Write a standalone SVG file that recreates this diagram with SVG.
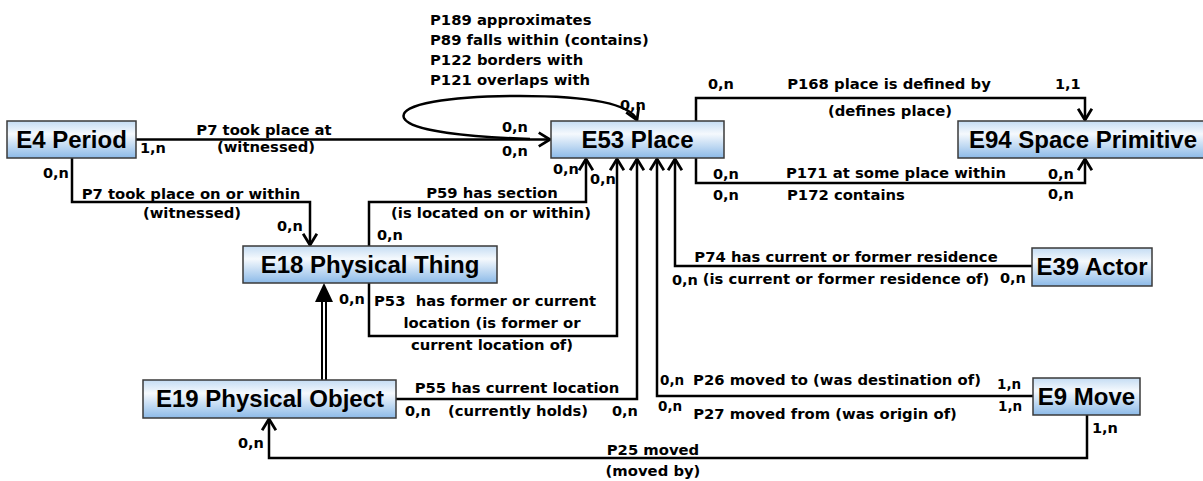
<svg xmlns="http://www.w3.org/2000/svg" width="1203" height="481" viewBox="0 0 1203 481">
<defs>
<linearGradient id="g" x1="0" y1="0" x2="0" y2="1">
<stop offset="0" stop-color="#c4dcf3"/>
<stop offset="0.35" stop-color="#f5f9fd"/>
<stop offset="1" stop-color="#8cbae8"/>
</linearGradient>
<marker id="arr" markerUnits="userSpaceOnUse" markerWidth="20" markerHeight="20" viewBox="-12 -8 14 16" refX="0" refY="0" orient="auto">
<path d="M-9,-5.5 L0,0 L-9,5.5" fill="none" stroke="#000" stroke-width="2.2"/>
</marker>
<style>
.n rect{fill:url(#g);stroke:#3a3a3a;stroke-width:1.5}
.n text{font-family:"Liberation Sans",Arial,sans-serif;font-weight:bold;font-size:24px;fill:#000;text-anchor:middle}
.c path{fill:none;stroke:#000;stroke-width:2.5}
.c .a{marker-end:url(#arr)}
.l{font-family:"DejaVu Sans","Noto Sans",sans-serif;font-weight:bold;font-size:14.8px;fill:#000}
.m{text-anchor:middle}
.k{font-size:14.5px}
</style>
</defs>
<rect width="1203" height="481" fill="#fff"/>
<g class="c" id="connectors">
<path class="a" d="M136,139.5 H550"/>
<path class="a" d="M530,139 C470,137 410,131 404,118 C398,104 450,96 520,96 C590,96 630,104 637,120"/>
<path class="a" d="M696,121 V98 H1085 V120"/>
<path class="a" d="M696,158 V183 H1085 V159"/>
<path class="a" d="M72,158 V202 H310 V245"/>
<path class="a" d="M369,246 V202 H586 V159"/>
<path class="a" d="M369,283 V336 H617 V159"/>
<path class="a" d="M396,399 H637 V159"/>
<path class="a" d="M1033,396 H657 V159"/>
<path class="a" d="M1032,266 H675 V159"/>
<path class="a" d="M1087,415 V458 H269 V419"/>
<path d="M322,380 V300 M326,380 V300" style="stroke-width:2"/>
<polygon points="324,283 315,302 333,302" fill="#000"/>
</g>
<g id="e4" class="n"><rect x="7" y="121" width="129" height="37"/><text x="71.5" y="148">E4 Period</text></g>
<g id="e53" class="n"><rect x="551" y="121" width="173" height="37"/><text x="637.5" y="148">E53 Place</text></g>
<g id="e94" class="n"><rect x="958" y="121" width="250" height="37"/><text x="1083" y="148">E94 Space Primitive</text></g>
<g id="e18" class="n"><rect x="243" y="246" width="254" height="37"/><text x="370" y="273">E18 Physical Thing</text></g>
<g id="e19" class="n"><rect x="143" y="380" width="253" height="38"/><text x="270" y="407">E19 Physical Object</text></g>
<g id="e39" class="n"><rect x="1032" y="248" width="120" height="38"/><text x="1092" y="275">E39 Actor</text></g>
<g id="e9" class="n"><rect x="1033" y="378" width="107" height="37"/><text x="1086.5" y="405">E9 Move</text></g>
<g id="labels">
<text class="l m" x="264" y="135">P7 took place at</text>
<text class="l m" x="266" y="152">(witnessed)</text>
<text class="l k" x="140" y="153">1,n</text>
<text class="l k" x="502" y="132">0,n</text>
<text class="l k" x="502" y="156">0,n</text>
<text class="l" x="430" y="25">P189 approximates</text>
<text class="l" x="430" y="45">P89 falls within (contains)</text>
<text class="l" x="430" y="65">P122 borders with</text>
<text class="l" x="430" y="85">P121 overlaps with</text>
<text class="l k" x="620" y="110">0,n</text>
<text class="l k" x="708" y="89">0,n</text>
<text class="l m" x="889" y="89">P168 place is defined by</text>
<text class="l k" x="1055" y="89">1,1</text>
<text class="l m" x="890" y="116">(defines place)</text>
<text class="l k" x="713" y="179">0,n</text>
<text class="l m" x="896" y="178">P171 at some place within</text>
<text class="l k" x="1048" y="179">0,n</text>
<text class="l k" x="713" y="200">0,n</text>
<text class="l" x="787" y="200">P172 contains</text>
<text class="l k" x="1048" y="199">0,n</text>
<text class="l k" x="43" y="178">0,n</text>
<text class="l m" x="191" y="199">P7 took place on or within</text>
<text class="l m" x="192" y="218">(witnessed)</text>
<text class="l k" x="277" y="231">0,n</text>
<text class="l k" x="553" y="174">0,n</text>
<text class="l k" x="590" y="184">0,n</text>
<text class="l m" x="492" y="198">P59 has section</text>
<text class="l m" x="491" y="218">(is located on or within)</text>
<text class="l k" x="377" y="240">0,n</text>
<text class="l k" x="339" y="304">0,n</text>
<text class="l" x="374" y="306" style="white-space:pre">P53  has former or current</text>
<text class="l m" x="492" y="328">location (is former or</text>
<text class="l m" x="492" y="350">current location of)</text>
<text class="l m" x="517" y="393">P55 has current location</text>
<text class="l k" x="405" y="416">0,n</text>
<text class="l m" x="518" y="416">(currently holds)</text>
<text class="l k" x="612" y="416">0,n</text>
<text class="l k" x="660" y="385" style="font-size:13.5px">0,n</text>
<text class="l m" x="837" y="385">P26 moved to (was destination of)</text>
<text class="l k" x="997" y="389" style="font-size:13.5px">1,n</text>
<text class="l k" x="658" y="411" style="font-size:13.5px">0,n</text>
<text class="l m" x="825" y="419">P27 moved from (was origin of)</text>
<text class="l k" x="998" y="411" style="font-size:13.5px">1,n</text>
<text class="l m" x="846" y="262">P74 has current or former residence</text>
<text class="l k" x="672" y="285">0,n</text>
<text class="l m" x="846" y="284">(is current or former residence of)</text>
<text class="l k" x="1000" y="283">0,n</text>
<text class="l m" x="653" y="455">P25 moved</text>
<text class="l m" x="653" y="476">(moved by)</text>
<text class="l k" x="1092" y="433">1,n</text>
<text class="l k" x="238" y="448">0,n</text>
</g>
</svg>
